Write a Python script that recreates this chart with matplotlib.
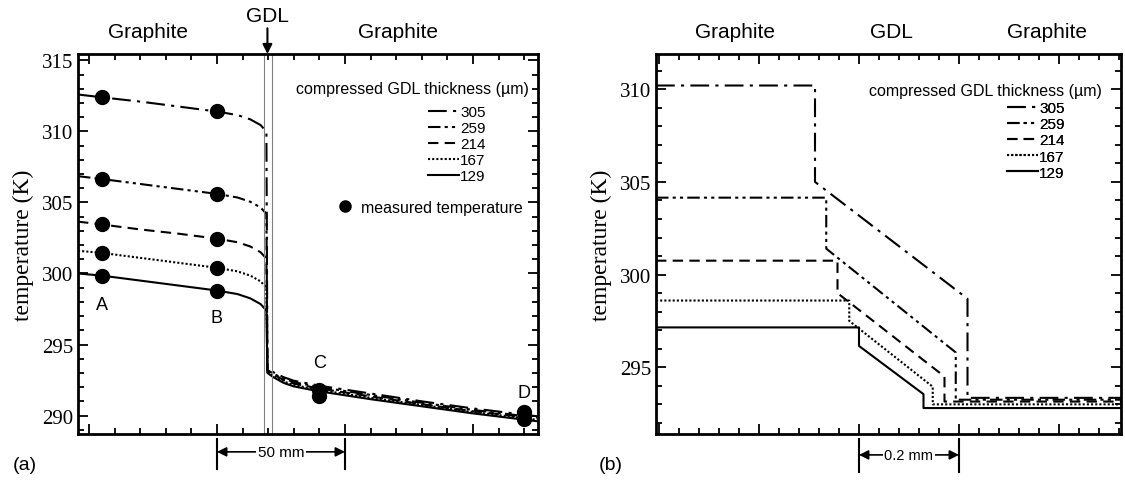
import matplotlib.pyplot as plt
import matplotlib.transforms as mtransforms
from matplotlib.ticker import MultipleLocator

thickness = ["305", "259", "214", "167", "129"]
styles = [(0, (9, 3, 1.5, 3)), (0, (6, 2, 1.5, 2, 1.5, 2)), (0, (5, 3)), (0, (1, 1)), "-"]

# (a) whole cell, position in mm
xa = [-4.3, 5, 20, 35, 50, 58, 63, 67, 69.3, 69.7, 72, 76, 80, 90, 110, 130, 150, 175]
ta = [
    [312.6, 312.4, 312.1, 311.75, 311.4, 311.15, 310.85, 310.45, 310.0,
     293.3, 293.05, 292.7, 292.45, 292.1, 291.55, 291.0, 290.5, 289.95],
    [306.85, 306.65, 306.3, 305.95, 305.6, 305.35, 305.05, 304.65, 304.2,
     293.2, 292.95, 292.6, 292.35, 292.0, 291.45, 290.9, 290.4, 289.85],
    [303.65, 303.45, 303.1, 302.8, 302.45, 302.2, 301.9, 301.5, 301.05,
     293.15, 292.9, 292.5, 292.25, 291.9, 291.35, 290.8, 290.3, 289.8],
    [301.6, 301.45, 301.1, 300.75, 300.4, 300.15, 299.85, 299.45, 299.0,
     293.05, 292.8, 292.4, 292.15, 291.8, 291.25, 290.75, 290.25, 289.7],
    [300.0, 299.85, 299.5, 299.15, 298.8, 298.55, 298.25, 297.85, 297.4,
     293.0, 292.7, 292.3, 292.05, 291.7, 291.15, 290.65, 290.15, 289.6],
]
meas_x = [5, 5, 5, 5, 5, 50, 50, 50, 50, 50, 90, 90, 170, 170]
meas_t = [312.4, 306.65, 303.45, 301.45, 299.8,
          311.45, 305.6, 302.45, 300.4, 298.75,
          291.8, 291.4, 290.25, 289.75]
point_names = ["A", "B", "C", "D"]
point_x = [5, 50, 90, 170]
point_y = [297.8, 296.9, 293.7, 291.6]
gdl_edges = [68.2, 71.3]

# (b) close-up around the GDL, position in mm
xb = [
    [-0.406, -0.088, -0.088, 0.217, 0.217, 0.524],
    [-0.406, -0.0655, -0.0655, 0.1935, 0.1935, 0.524],
    [-0.406, -0.043, -0.043, 0.171, 0.171, 0.524],
    [-0.406, -0.0195, -0.0195, 0.1475, 0.1475, 0.524],
    [-0.406, 0.0, 0.0, 0.129, 0.129, 0.524],
]
tb = [
    [310.2, 310.2, 305.0, 298.7, 293.35, 293.35],
    [304.15, 304.15, 301.4, 295.8, 293.25, 293.25],
    [300.75, 300.75, 299.0, 294.5, 293.15, 293.15],
    [298.6, 298.6, 297.5, 293.95, 293.0, 293.0],
    [297.15, 297.15, 296.15, 293.55, 292.8, 292.8],
]

serif = "Liberation Serif"
sans = "Liberation Sans"
leg_title = "compressed GDL thickness (µm)"

fig = plt.figure(figsize=(11.25, 4.81), dpi=100)
axa = fig.add_axes([78 / 1125, 1 - 435 / 481, 460 / 1125, 380 / 481])
axb = fig.add_axes([656 / 1125, 1 - 435 / 481, 465 / 1125, 380 / 481])


def style_axes(ax):
    for s in ax.spines.values():
        s.set_linewidth(2)
    ax.tick_params(which="both", direction="in", top=True, right=True,
                   labelbottom=False, width=1.3, labelsize=15,
                   labelfontfamily=serif)
    ax.tick_params(which="major", length=7)
    ax.tick_params(which="minor", length=4)
    ax.yaxis.set_minor_locator(MultipleLocator(1))
    ax.set_ylabel("temperature (K)", fontfamily=serif, fontsize=17)


def thickness_legend(ax, handles, x0, y0, xt, yt):
    leg = ax.legend(handles=handles, loc="upper left", bbox_to_anchor=(x0, y0),
                    frameon=False, borderpad=0, borderaxespad=0,
                    handlelength=2.0, handletextpad=0.1, labelspacing=0.14,
                    prop={"family": sans, "size": 11})
    ax.add_artist(leg)
    ax.text(xt, yt, leg_title, transform=ax.transAxes, ha="right", va="center",
            fontsize=11.5, fontfamily=sans)


# ---- (a)
lines = []
for i in range(5):
    ln, = axa.plot(xa, ta[i], color="black", lw=1.5, ls=styles[i], label=thickness[i])
    lines.append(ln)
dots, = axa.plot(meas_x, meas_t, "o", color="black", ms=10, ls="none",
                 label="measured temperature")
for e in gdl_edges:
    axa.axvline(e, color="gray", lw=0.8)
for n, px, py in zip(point_names, point_x, point_y):
    axa.text(px, py, n, ha="center", va="center", fontsize=13, fontfamily=sans)

axa.set_xlim(-4.3, 175.4)
axa.set_ylim(288.7, 315.45)
axa.set_yticks([290, 295, 300, 305, 310, 315])
axa.xaxis.set_major_locator(MultipleLocator(50))
axa.xaxis.set_minor_locator(MultipleLocator(10))
style_axes(axa)
axa.yaxis.set_label_coords(-0.096, 0.5)

thickness_legend(axa, lines, 0.761, 0.866, 0.980, 0.908)
axa.legend(handles=[dots], loc="center left", bbox_to_anchor=(0.563, 0.597),
           frameon=False, borderpad=0, borderaxespad=0, handlelength=1.0,
           handletextpad=0.5, markerscale=0.8, prop={"family": sans, "size": 11.5})

ta_tr = mtransforms.blended_transform_factory(axa.transData, axa.transAxes)
axa.text(23, 1.035, "Graphite", transform=ta_tr, ha="center", va="bottom",
         fontsize=15, fontfamily=sans)
axa.text(120.7, 1.035, "Graphite", transform=ta_tr, ha="center", va="bottom",
         fontsize=15, fontfamily=sans)
axa.annotate("GDL", xy=(69.7, 1.0), xycoords=ta_tr, xytext=(69.7, 1.075),
             textcoords=ta_tr, ha="center", va="bottom", fontsize=15, fontfamily=sans,
             arrowprops=dict(arrowstyle="-|>", color="black", lw=1.5,
                             shrinkA=0, shrinkB=0, mutation_scale=14))
for bx in (50, 100):
    axa.plot([bx, bx], [-0.013, -0.092], color="black", lw=1.5,
             transform=ta_tr, clip_on=False)
axa.annotate("", xy=(50, -0.047), xycoords=ta_tr, xytext=(100, -0.047), textcoords=ta_tr,
             arrowprops=dict(arrowstyle="<|-|>", color="black", lw=1.2,
                             shrinkA=0, shrinkB=0, mutation_scale=14))
axa.text(75, -0.047, "50 mm", transform=ta_tr, ha="center", va="center", fontsize=11,
         fontfamily=sans, bbox=dict(fc="white", ec="none", pad=1))

# ---- (b)
lines_b = []
for i in range(5):
    ln, = axb.plot(xb[i], tb[i], color="black", lw=1.5, ls=styles[i], label=thickness[i])
    lines_b.append(ln)
axb.set_xlim(-0.406, 0.524)
axb.set_ylim(291.4, 311.9)
axb.set_yticks([295, 300, 305, 310])
axb.xaxis.set_major_locator(MultipleLocator(0.2))
axb.xaxis.set_minor_locator(MultipleLocator(0.04))
style_axes(axb)
axb.yaxis.set_label_coords(-0.094, 0.5)
thickness_legend(axb, lines_b, 0.755, 0.876, 0.959, 0.903)

tb_tr = mtransforms.blended_transform_factory(axb.transData, axb.transAxes)
for px, name in zip([-0.248, 0.064, 0.376], ["Graphite", "GDL", "Graphite"]):
    axb.text(px, 1.035, name, transform=tb_tr, ha="center", va="bottom",
             fontsize=15, fontfamily=sans)
for bx in (0.0, 0.2):
    axb.plot([bx, bx], [-0.013, -0.1], color="black", lw=1.5,
             transform=tb_tr, clip_on=False)
axb.annotate("", xy=(0.0, -0.055), xycoords=tb_tr, xytext=(0.2, -0.055), textcoords=tb_tr,
             arrowprops=dict(arrowstyle="<|-|>", color="black", lw=1.2,
                             shrinkA=0, shrinkB=0, mutation_scale=14))
axb.text(0.1, -0.055, "0.2 mm", transform=tb_tr, ha="center", va="center", fontsize=10.5,
         fontfamily=sans, bbox=dict(fc="white", ec="none", pad=1))

fig.text(0.011, 0.033, "(a)", fontsize=14, fontfamily=sans, va="center")
fig.text(0.532, 0.033, "(b)", fontsize=14, fontfamily=sans, va="center")

fig.savefig("out.png", dpi=100)
